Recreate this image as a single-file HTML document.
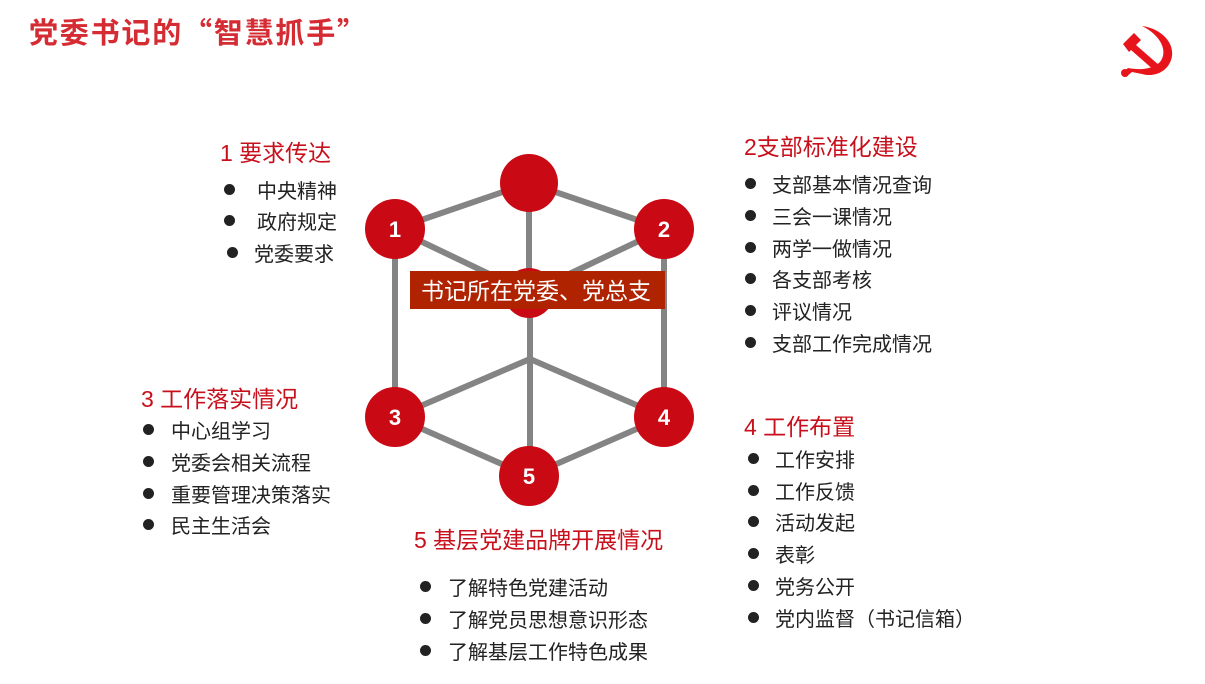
<!DOCTYPE html>
<html><head><meta charset="utf-8"><style>
body{margin:0;width:1205px;height:684px;background:#fff;position:relative;overflow:hidden;font-family:"Liberation Sans","Noto Sans CJK SC",sans-serif}
.t{position:absolute;white-space:nowrap}
.h{color:#c8101c;font-size:23px}
.i{color:#222;font-size:20px}
.d{position:absolute;width:11px;height:11px;border-radius:50%;background:#222}
</style></head><body>
<div class="t" style="left:29px;top:10px;font-size:29px;font-weight:bold;color:#d52b33;font-family:'Noto Sans CJK SC',sans-serif;letter-spacing:1.8px">党委书记的“智慧抓手”</div>
<svg style="position:absolute;left:1118px;top:22px" width="58" height="58" viewBox="0 0 58 58">
<path d="M24 4 C40 6 56 18 54 34 C52 48 38 56 24 52 L14 50 L8 55 L4 51 L10 46 C20 48 34 48 42 40 C50 30 44 14 24 4Z" fill="#e8141c"/>
<path d="M5 22 L16 11 L23 18 L18 23 L42 44 L37 49 L13 28 L11 30Z" fill="#e8141c"/>
<circle cx="7" cy="51" r="4" fill="#e8141c"/>
</svg>
<svg style="position:absolute;left:0;top:0" width="1205" height="684">
<g stroke="#848484" stroke-width="6" fill="none">
<line x1="529" y1="183" x2="395" y2="229"/><line x1="529" y1="183" x2="664" y2="229"/>
<line x1="529" y1="183" x2="529" y2="293"/><line x1="395" y1="229" x2="529" y2="293"/><line x1="664" y1="229" x2="529" y2="293"/>
<line x1="395" y1="229" x2="395" y2="417"/><line x1="664" y1="229" x2="664" y2="417"/>
<line x1="530" y1="293" x2="530" y2="476"/><line x1="530" y1="359" x2="395" y2="417"/><line x1="530" y1="359" x2="664" y2="417"/>
<line x1="395" y1="417" x2="529" y2="476"/><line x1="664" y1="417" x2="529" y2="476"/>
</g>
<g fill="#c90a14"><circle cx="529" cy="183" r="29"/><circle cx="529" cy="293" r="25"/>
<circle cx="395" cy="229" r="30"/><circle cx="664" cy="229" r="30"/><circle cx="395" cy="417" r="30"/><circle cx="664" cy="417" r="30"/><circle cx="529" cy="476" r="30"/></g>
<g fill="#fff" font-size="22" font-weight="bold" text-anchor="middle" font-family="Liberation Sans,sans-serif">
<text x="395" y="237">1</text><text x="664" y="237">2</text><text x="395" y="425">3</text><text x="664" y="425">4</text><text x="529" y="484">5</text></g>
<rect x="410" y="271" width="255" height="38" fill="#b02300"/>
<text x="536" y="299" fill="#fff" font-size="23" text-anchor="middle" font-family="Liberation Sans,Noto Sans CJK SC,sans-serif">书记所在党委、党总支</text>
</svg>

<div class="t h" style="left:220px;top:134px">1 要求传达</div>
<div class="d" style="left:224px;top:184px"></div><div class="t i" style="left:257px;top:175px">中央精神</div>
<div class="d" style="left:224px;top:215px"></div><div class="t i" style="left:257px;top:206px">政府规定</div>
<div class="d" style="left:227px;top:247px"></div><div class="t i" style="left:254px;top:238px">党委要求</div>

<div class="t h" style="left:744px;top:128px">2支部标准化建设</div>
<div class="d" style="left:745px;top:178px"></div><div class="t i" style="left:772px;top:169px">支部基本情况查询</div>
<div class="d" style="left:745px;top:210px"></div><div class="t i" style="left:772px;top:201px">三会一课情况</div>
<div class="d" style="left:745px;top:242px"></div><div class="t i" style="left:772px;top:233px">两学一做情况</div>
<div class="d" style="left:745px;top:273px"></div><div class="t i" style="left:772px;top:264px">各支部考核</div>
<div class="d" style="left:745px;top:305px"></div><div class="t i" style="left:772px;top:296px">评议情况</div>
<div class="d" style="left:745px;top:337px"></div><div class="t i" style="left:772px;top:328px">支部工作完成情况</div>

<div class="t h" style="left:141px;top:380px">3 工作落实情况</div>
<div class="d" style="left:143px;top:424px"></div><div class="t i" style="left:171px;top:415px">中心组学习</div>
<div class="d" style="left:143px;top:456px"></div><div class="t i" style="left:171px;top:447px">党委会相关流程</div>
<div class="d" style="left:143px;top:488px"></div><div class="t i" style="left:171px;top:479px">重要管理决策落实</div>
<div class="d" style="left:143px;top:519px"></div><div class="t i" style="left:171px;top:510px">民主生活会</div>

<div class="t h" style="left:744px;top:408px">4 工作布置</div>
<div class="d" style="left:748px;top:453px"></div><div class="t i" style="left:775px;top:444px">工作安排</div>
<div class="d" style="left:748px;top:485px"></div><div class="t i" style="left:775px;top:476px">工作反馈</div>
<div class="d" style="left:748px;top:516px"></div><div class="t i" style="left:775px;top:507px">活动发起</div>
<div class="d" style="left:748px;top:548px"></div><div class="t i" style="left:775px;top:539px">表彰</div>
<div class="d" style="left:748px;top:580px"></div><div class="t i" style="left:775px;top:571px">党务公开</div>
<div class="d" style="left:748px;top:612px"></div><div class="t i" style="left:775px;top:603px">党内监督（书记信箱）</div>

<div class="t h" style="left:414px;top:521px">5 基层党建品牌开展情况</div>
<div class="d" style="left:420px;top:581px"></div><div class="t i" style="left:448px;top:572px">了解特色党建活动</div>
<div class="d" style="left:420px;top:613px"></div><div class="t i" style="left:448px;top:604px">了解党员思想意识形态</div>
<div class="d" style="left:420px;top:645px"></div><div class="t i" style="left:448px;top:636px">了解基层工作特色成果</div>
</body></html>
